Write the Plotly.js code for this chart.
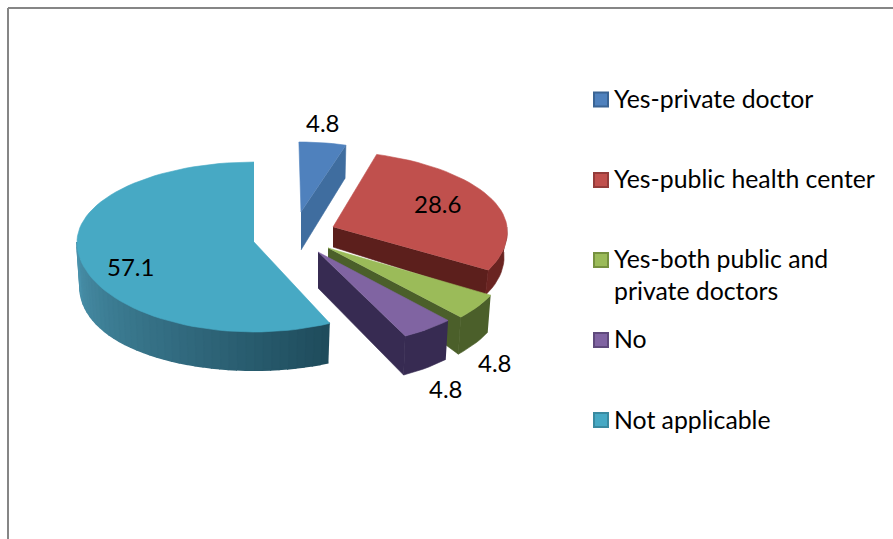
<!DOCTYPE html>
<html>
<head>
<meta charset="utf-8">
<script src="https://cdn.plot.ly/plotly-3.0.1.min.js"></script>
<style>html,body{margin:0;padding:0;background:#fff}#chart{width:893px;height:539px}</style>
</head>
<body>
<div id="chart"></div>
<script>
// Data
var categories = ["Yes-private doctor","Yes-public health center","Yes-both public and<br>private doctors","No","Not applicable"];
var values = [4.8, 28.6, 4.8, 4.8, 57.1];

// Styles
var topColors  = ["#4f81bd","#c0504d","#9bbb59","#8064a2","#47a9c4"];
var rimColors  = ["#3d6a9c","#6a2421","#4b5f2a","#372b52","#4a93ad"];
var cutColors  = ["#3f6d9f","#5c1f1c","#4b5f2a","#372b52","#1f4c5c"];
var rimEndColor= ["#3d6a9c","#6a2421","#4b5f2a","#372b52","#1f4c5c"];
var legendBorders = ["#3a6494","#943c3a","#76913f","#5f4a7c","#3a8aa0"];

// Exploded 3D pie geometry (per slice), in plot pixels
var apexX   = [301, 333, 328, 318, 254];
var apexY   = [212, 227, 248, 252, 242];
var radiusX = [158, 174, 179, 180, 177];
var backY   = [70, 76, 92, 92, 80];
var frontY  = [70, 86, 94, 93, 90];
var skew    = [0.03, 0.11, 0.166, 0.12, 0];
var apexDepth = [38, 20, 10, 36, 38];
var rimDepth  = [33, 25, 37, 39, 38];
var sideDepth = [0, 0, 0, 0, 7];
var hasCut    = [true, true, true, true, false];

// Label layout
var valueLabelX = [323, 437, 495, 446, 130];
var valueLabelY = [122, 203, 362, 388, 266];
var legendY = [99.5, 180, 260, 340, 420];
var legendTextY = [98, 178.5, 243, 338.5, 419];
var legendMarkerX = 601, legendTextX = 615;

var total = values.reduce(function(a,b){return a+b;},0);
var traces = [];
function poly(pts, fill, width){
  traces.push({type:"scatter", mode:"lines", x:pts.map(function(p){return p[0];}), y:pts.map(function(p){return p[1];}),
    fill:"toself", fillcolor:fill, line:{color:fill, width:width||0.6, shape:"linear"},
    hoverinfo:"skip", showlegend:false});
}
function mix(a,b,f){
  var pa=[1,3,5].map(function(i){return parseInt(a.substr(i,2),16);});
  var pb=[1,3,5].map(function(i){return parseInt(b.substr(i,2),16);});
  return "rgb("+pa.map(function(v,i){return Math.round(v+(pb[i]-v)*f);}).join(",")+")";
}
function point(i,t){
  var c=Math.cos(t), dy=-c*(c>0?backY[i]:frontY[i]);
  return [apexX[i]+radiusX[i]*Math.sin(t)+skew[i]*dy, apexY[i]+dy];
}
function drop(i,p,t){
  var s=Math.sin(t);
  return [p[0]+(apexX[i]-p[0])*0.018, p[1]+rimDepth[i]+sideDepth[i]*s*s];
}
var start=0;
values.forEach(function(v,i){
  var sweep=v/total*2*Math.PI, t0=start, t1=start+sweep, n=Math.max(4,Math.ceil(sweep/0.05));
  var apex=[apexX[i],apexY[i]];
  var rim=[]; for(var k=0;k<=n;k++){var t=t0+sweep*k/n; rim.push(point(i,t));}
  // cut face at end of the slice
  if(hasCut[i]){
    var e=point(i,t1);
    poly([apex,e,drop(i,e,t1),[apex[0],apex[1]+apexDepth[i]]],cutColors[i]);
  }
  // outer wall, only the part that faces the viewer
  var a0=Math.max(t0,Math.PI/2), a1=Math.min(t1,3*Math.PI/2);
  if(a1>a0){
    var m=Math.ceil((a1-a0)/0.05);
    if(rimColors[i]===rimEndColor[i]){
      var front=[], back=[];
      for(var j0=0;j0<=m;j0++){
        var q=a0+(a1-a0)*j0/m, pq=point(i,q);
        front.push(pq); back.unshift(drop(i,pq,q));
      }
      poly(front.concat(back),rimColors[i]);
    } else {
      for(var j=0;j<m;j++){
        var u=a0+(a1-a0)*j/m, w=a0+(a1-a0)*(j+1)/m;
        var pu=point(i,u), pw=point(i,w);
        poly([pu,pw,drop(i,pw,w),drop(i,pu,u)], mix(rimEndColor[i],rimColors[i],j/m), 2);
      }
    }
  }
  poly([apex].concat(rim),topColors[i]);
  start=t1;
});
// Legend swatches
traces.push({type:"scatter",mode:"markers",x:legendY.map(function(){return legendMarkerX;}),y:legendY,
  marker:{symbol:"square",size:14,color:topColors,line:{color:legendBorders,width:2}},hoverinfo:"skip",showlegend:false});

var valueFont={family:"Lato, 'Open Sans', sans-serif",size:24,color:"#000"};
var legendFont={family:"Lato, 'Open Sans', sans-serif",size:24.8,color:"#000"};
var annotations=[];
values.forEach(function(v,i){
  annotations.push({xref:"x",yref:"y",x:valueLabelX[i],y:valueLabelY[i],text:v.toFixed(1),showarrow:false,font:valueFont,xanchor:"center",yanchor:"middle"});
});
categories.forEach(function(c,i){
  var two=c.indexOf("<br>")>=0;
  annotations.push({xref:"x",yref:"y",x:legendTextX,y:legendTextY[i],text:c,showarrow:false,font:legendFont,align:"left",
    xanchor:"left",yanchor:two?"top":"middle",xshift:-2,borderpad:0});
});
var layout={
  width:893,height:539,margin:{l:0,r:0,t:0,b:0},paper_bgcolor:"#fff",plot_bgcolor:"#fff",showlegend:false,
  xaxis:{range:[0,893],visible:false,fixedrange:true},
  yaxis:{range:[539,0],visible:false,fixedrange:true},
  annotations:annotations,
  shapes:[
    {type:"line",xref:"x",yref:"y",x0:8,x1:893,y0:8,y1:8,line:{color:"#868686",width:2}},
    {type:"line",xref:"x",yref:"y",x0:8,x1:8,y0:8,y1:539,line:{color:"#868686",width:2}}
  ]
};
Plotly.newPlot("chart",traces,layout,{displayModeBar:false,staticPlot:true});
</script>
</body>
</html>
